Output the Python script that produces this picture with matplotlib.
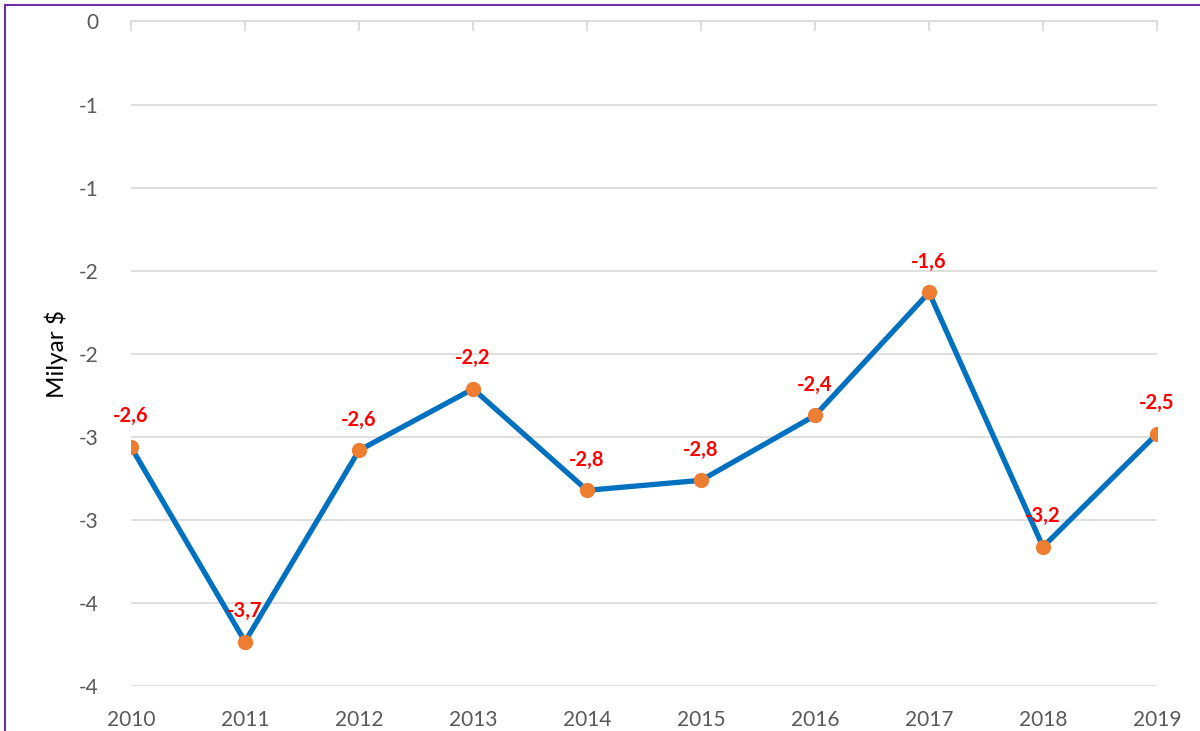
import matplotlib
matplotlib.use("Agg")
import matplotlib.pyplot as plt
from matplotlib.lines import Line2D
from matplotlib.ticker import FuncFormatter

plt.rcParams['font.family'] = ['Lato', 'DejaVu Sans']

# Data (billion $)
years = ['2010', '2011', '2012', '2013', '2014', '2015', '2016', '2017', '2018', '2019']
values = [-2.56, -3.73, -2.58, -2.21, -2.82, -2.76, -2.37, -1.63, -3.16, -2.48]
y_ticks = [0, -0.5, -1, -1.5, -2, -2.5, -3, -3.5, -4]

fig = plt.figure(figsize=(12, 7.31), dpi=100)
ax = fig.add_axes([0.1092, 0.0609, 0.855, 0.9097])

x = list(range(len(years)))
ax.plot(x, values, color='#0070c0', linewidth=3.8, zorder=3,
        marker='o', markersize=10, markerfacecolor='#ed7d31',
        markeredgecolor='#ed7d31')

for xi, v in zip(x, values):
    ax.annotate(f'{v:.1f}'.replace('.', ','), (xi, v), xytext=(0, 15),
                textcoords='offset points', ha='center', va='bottom',
                color='#ff0000', fontsize=14.5, fontweight='bold', zorder=4)

ax.set_xlim(0, len(years) - 1)
ax.set_ylim(-4, 0)
ax.set_yticks(y_ticks)

# Excel-style integer rounding of tick labels (-0.5 -> -1 etc.)
def fmt(v, pos):
    return str(-int(abs(v) + 0.5)) if v < 0 else str(int(v + 0.5))

ax.yaxis.set_major_formatter(FuncFormatter(fmt))
ax.set_xticks(x)
ax.set_xticklabels(years)

ax.grid(axis='y', color='#d9d9d9', linewidth=1.2)
ax.set_axisbelow(True)
for s in ['left', 'right', 'bottom']:
    ax.spines[s].set_visible(False)
ax.spines['top'].set_color('#d9d9d9')
ax.spines['top'].set_linewidth(1.2)

ax.tick_params(axis='x', top=True, bottom=False, labeltop=False, labelbottom=True,
               direction='in', length=7, width=1.2, color='#d9d9d9',
               labelsize=15, labelcolor='#595959', pad=17)
ax.tick_params(axis='y', left=False, labelsize=15, labelcolor='#595959', pad=20)

ax.set_ylabel('Milyar $', fontsize=17.5, color='black', labelpad=8)

# purple frame edges (top and left visible)
fig.add_artist(Line2D([0.004, 1.0], [0.9935, 0.9935], transform=fig.transFigure,
                      color='#7030a0', linewidth=1.5))
fig.add_artist(Line2D([0.004, 0.004], [0.0, 0.9935], transform=fig.transFigure,
                      color='#7030a0', linewidth=1.5))

fig.savefig('out.png', dpi=100)
